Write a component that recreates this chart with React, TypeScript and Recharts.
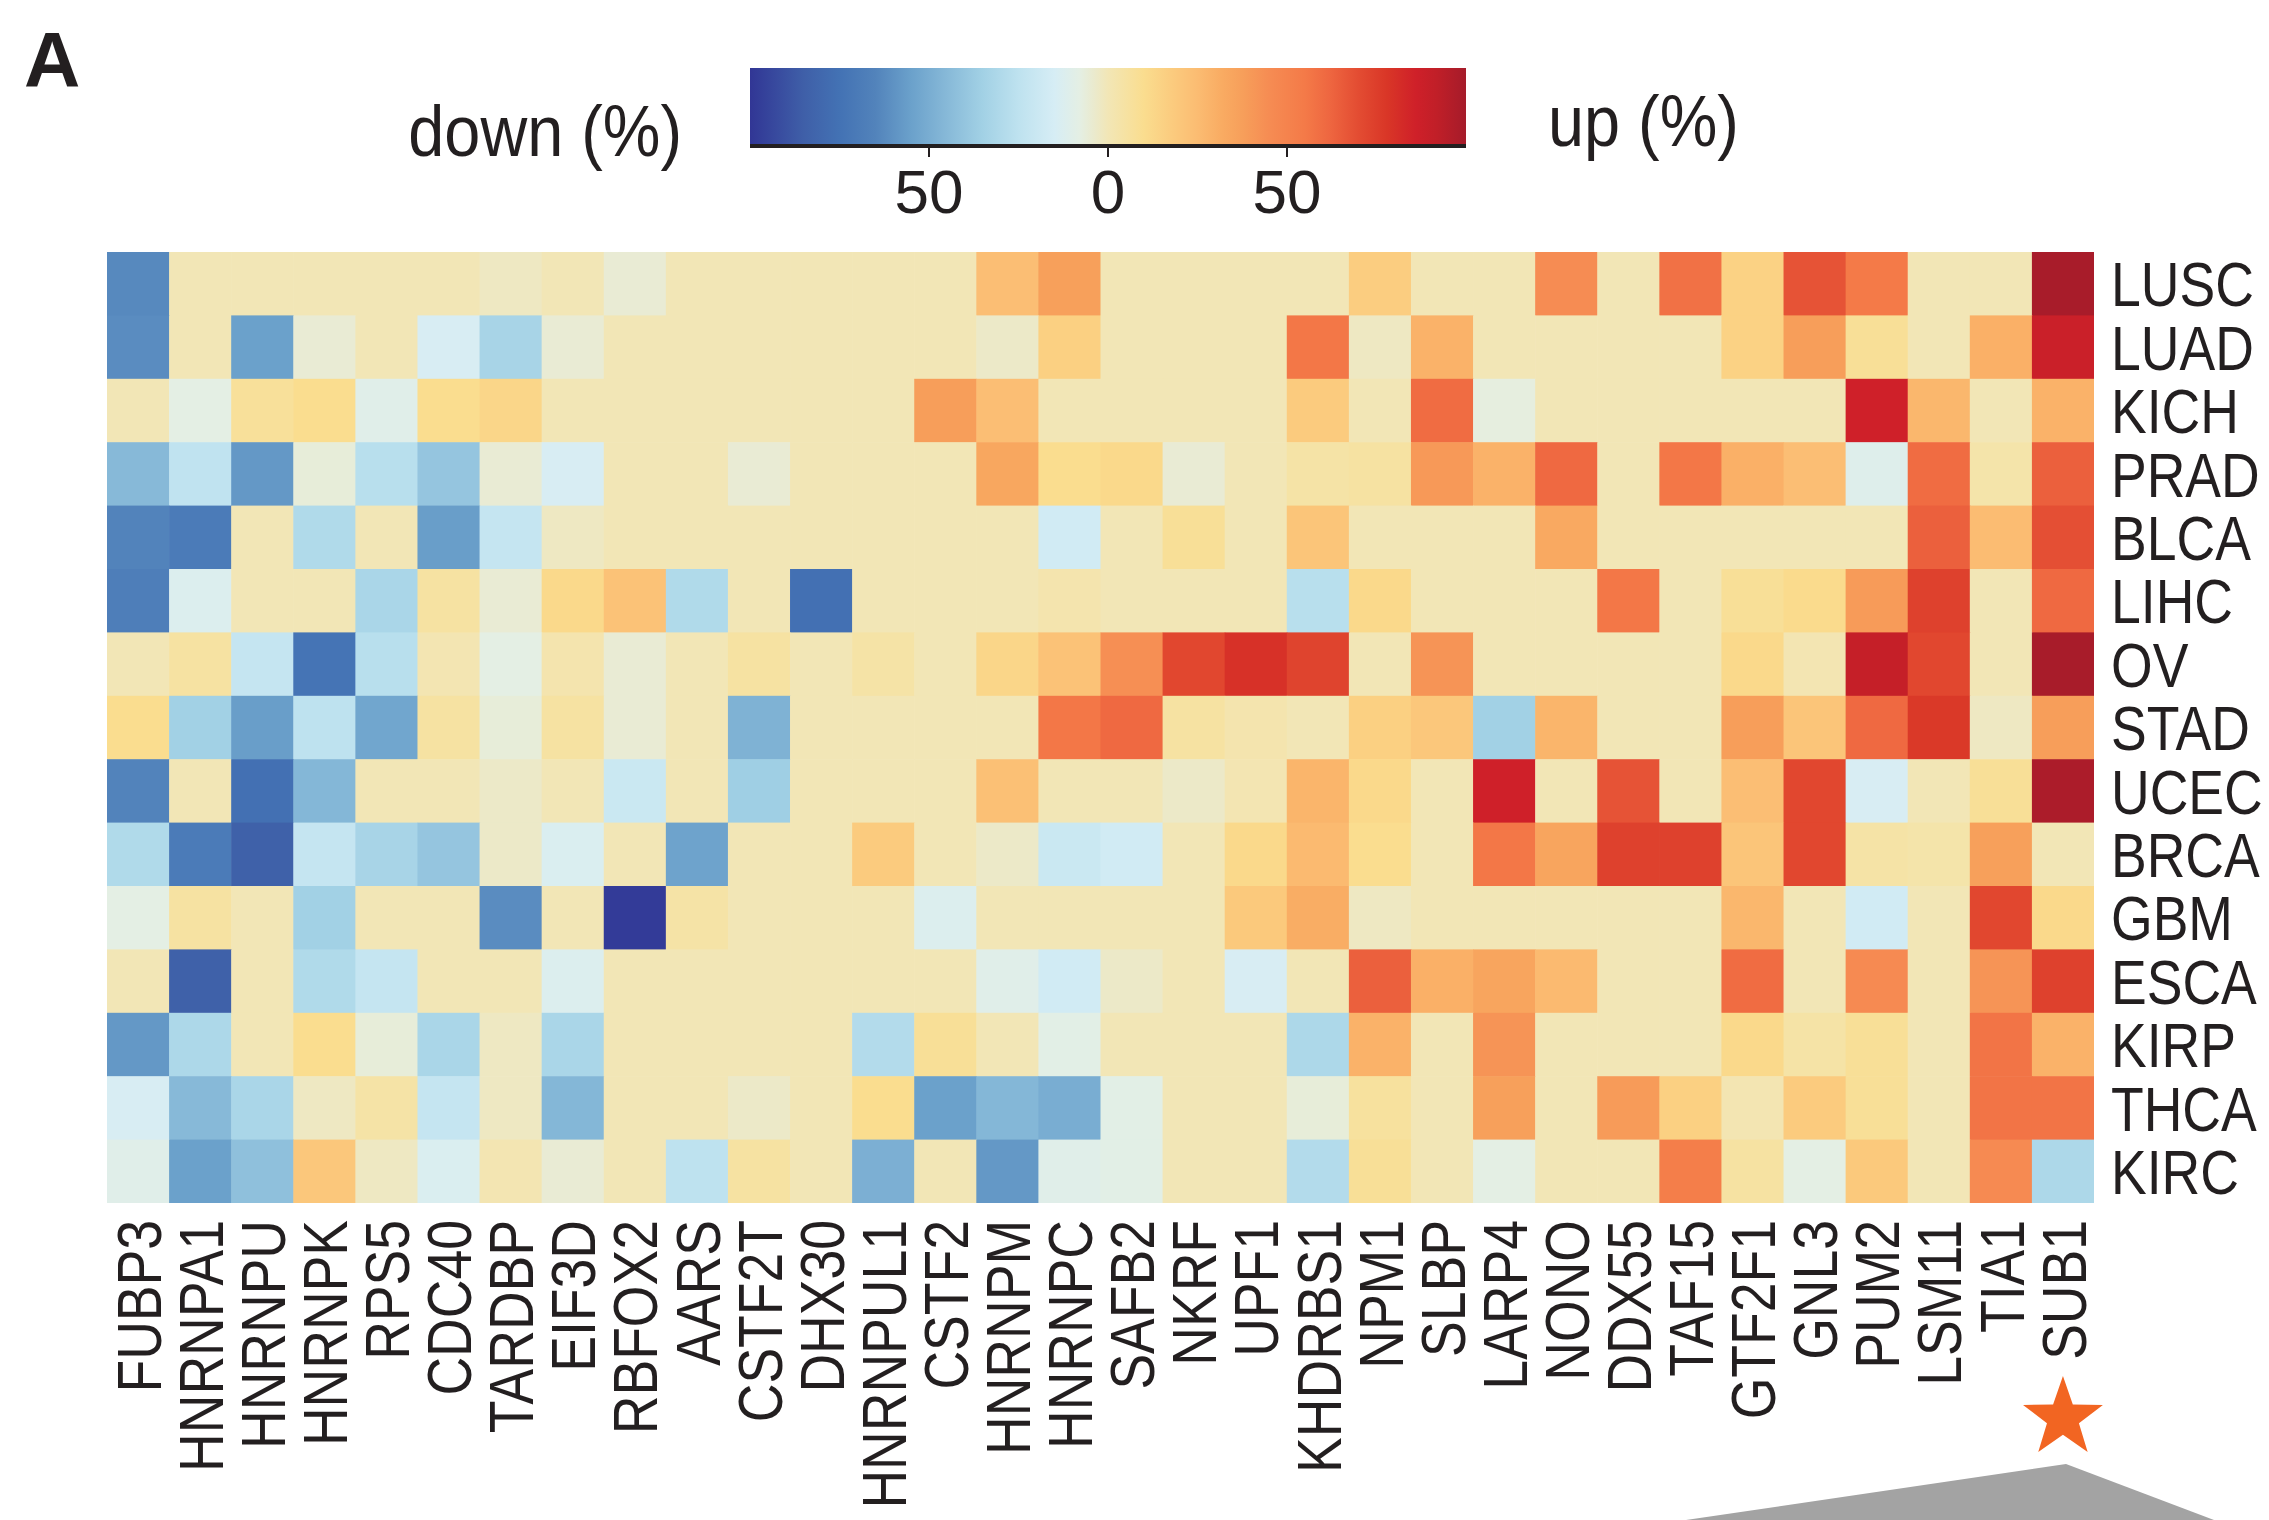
import { ScatterChart, Scatter, XAxis, YAxis, ReferenceArea } from "recharts";

// column / row labels
const genes = [
  "FUBP3", "HNRNPA1", "HNRNPU", "HNRNPK", "RPS5", "CDC40", "TARDBP", "EIF3D",
  "RBFOX2", "AARS", "CSTF2T", "DHX30", "HNRNPUL1", "CSTF2", "HNRNPM", "HNRNPC",
  "SAFB2", "NKRF", "UPF1", "KHDRBS1", "NPM1", "SLBP", "LARP4", "NONO",
  "DDX55", "TAF15", "GTF2F1", "GNL3", "PUM2", "LSM11", "TIA1", "SUB1",
];
const cancers = [
  "LUSC", "LUAD", "KICH", "PRAD", "BLCA", "LIHC", "OV", "STAD",
  "UCEC", "BRCA", "GBM", "ESCA", "KIRP", "THCA", "KIRC",
];
const highlighted = "SUB1";

// % change per cancer type (negative = down, positive = up), one value per gene
const LUSC = [-63, 0, 0, 0, 0, 0, -2, 0, -5, 0, 0, 0, 0, 0, 24, 37, 0, 0, 0, 0, 17, 0, 0, 45, 0, 58, 15, 68, 55, 0, 0, 99];
const LUAD = [-62, 0, -55, -5, 0, -14, -33, -5, 0, 0, 0, 0, 0, 0, -3, 16, 0, 0, 0, 56, -2, 29, 0, 0, 0, 0, 15, 38, 8, 0, 30, 88];
const KICH = [0, -8, 7, 10, -10, 10, 13, 0, 0, 0, 0, 0, 0, 38, 24, 0, 0, 0, 0, 18, 0, 60, -7, 0, 0, 0, 0, 0, 86, 27, 0, 29];
const PRAD = [-45, -24, -58, -6, -27, -40, -5, -14, 0, 0, -5, 0, 0, 0, 34, 10, 12, -5, 0, 4, 5, 40, 29, 61, 0, 56, 30, 24, -11, 60, 3, 64];
const BLCA = [-65, -70, 0, -30, 0, -56, -22, -2, 0, 0, 0, 0, 0, 0, 0, -17, 0, 8, 0, 21, 0, 0, 0, 33, 0, 0, 0, 0, 0, 64, 25, 69];
const LIHC = [-68, -12, 0, 0, -32, 5, -5, 12, 22, -30, 0, -76, 0, 0, 0, 2, 0, 0, 0, -27, 12, 0, 0, 0, 56, 0, 8, 11, 39, 74, 0, 61];
const OV = [0, 5, -22, -74, -27, 1, -8, 2, -5, 0, 5, 0, 4, 0, 13, 22, 44, 72, 80, 73, 0, 42, 0, 0, 0, 0, 12, 1, 90, 72, 0, 99];
const STAD = [10, -35, -56, -25, -53, 5, -6, 5, -5, 0, -48, 0, 0, 0, 0, 56, 61, 5, 2, 0, 16, 20, -35, 28, 0, 0, 38, 21, 61, 77, -2, 38];
const UCEC = [-65, 0, -76, -46, 0, 0, -3, 0, -20, 0, -36, 0, 0, 0, 23, 0, 0, -3, 1, 28, 12, 0, 86, 0, 68, 0, 24, 72, -14, 0, 8, 98];
const BRCA = [-30, -70, -84, -22, -33, -40, -3, -13, 0, -54, 0, 0, 18, 0, -3, -20, -17, 0, 12, 26, 10, 0, 56, 35, 74, 74, 21, 72, 4, 3, 37, 0];
const GBM = [-8, 5, 0, -35, 0, 0, -62, 0, -98, 4, 0, 0, 0, -12, 0, 0, 0, 0, 19, 31, -2, 0, 0, 0, 0, 0, 27, 0, -17, 0, 72, 12];
const ESCA = [0, -84, 0, -30, -22, 0, 0, -12, 0, 0, 0, 0, 0, 0, -10, -17, -3, 0, -14, 0, 64, 30, 35, 26, 0, 0, 60, 0, 46, 0, 42, 74];
const KIRP = [-58, -31, 0, 10, -6, -32, -2, -32, 0, 0, 0, 0, -29, 8, 0, -9, 0, 0, 0, -31, 29, 0, 42, 0, 0, 0, 12, 4, 8, 0, 57, 29];
const THCA = [-14, -45, -32, -2, 4, -22, -2, -46, 0, 0, -3, 0, 10, -55, -46, -50, -9, 0, 0, -6, 6, 0, 37, 0, 39, 16, 1, 18, 8, 0, 57, 57];
const KIRC = [-10, -55, -42, 20, -2, -13, 1, -5, 0, -25, 5, 0, -49, 0, -58, -10, -9, 0, 0, -29, 8, 0, -8, 0, 0, 53, 5, -8, 19, 0, 46, -31];

const rows = [LUSC, LUAD, KICH, PRAD, BLCA, LIHC, OV, STAD, UCEC, BRCA, GBM, ESCA, KIRP, THCA, KIRC];
const colorbarTicks = [-50, 0, 50];

// diverging palette (printed RdYlBu look)
const STOPS: [number, string][] = [
  [-100, "#313695"], [-85, "#3f5fa8"], [-75, "#4372b4"], [-65, "#5283bb"],
  [-55, "#6ba1cb"], [-45, "#87b9d8"], [-35, "#a2d1e5"], [-25, "#bee2ef"],
  [-15, "#d6edf5"], [-8, "#e4efe4"], [-4, "#eaeace"], [0, "#f2e6b6"],
  [5, "#f6e2a2"], [10, "#fadd8f"], [18, "#fbcb7e"], [25, "#fbbc72"],
  [32, "#f9ab62"], [38, "#f79e5a"], [45, "#f68c53"], [55, "#f47a48"],
  [62, "#ee6640"], [70, "#e34c32"], [78, "#d93627"], [86, "#cf2029"],
  [92, "#c01f28"], [100, "#a51b2a"],
];

const hex = (c: string) => [1, 3, 5].map((i) => parseInt(c.slice(i, i + 2), 16));
const colorFor = (v: number) => {
  for (let i = 0; i < STOPS.length - 1; i++) {
    const [v0, c0] = STOPS[i];
    const [v1, c1] = STOPS[i + 1];
    if (v <= v1) {
      const t = Math.max(0, (v - v0) / (v1 - v0));
      const a = hex(c0), b = hex(c1);
      return `rgb(${a.map((x, k) => Math.round(x + (b[k] - x) * t)).join(",")})`;
    }
  }
  return STOPS[STOPS.length - 1][1];
};

const cells = rows.flatMap((vals, r) => vals.map((v, c) => ({ x: c, y: r, v })));

const FONT = "'Liberation Sans', Arial, Helvetica, sans-serif";
const INK = "#231f20";
const W = 2269, H = 1520;
const LEFT = 107, TOP = 252, PW = 1987, PH = 951;
const CELL_W = PW / genes.length, CELL_H = PH / cancers.length;
const LABEL_GAP = 17;
const LABEL_SIZE = 63;

const starPoints = (cx: number, cy: number, R: number) => {
  const r = R * 0.4;
  const pts: string[] = [];
  for (let i = 0; i < 10; i++) {
    const a = -Math.PI / 2 + (i * Math.PI) / 5;
    const rr = i % 2 === 0 ? R : r;
    pts.push(`${cx + rr * Math.cos(a)},${cy + rr * Math.sin(a)}`);
  }
  return pts.join(" ");
};

const GeneTick = (props: any) => {
  const { x, payload } = props;
  const name = genes[payload.value];
  const y = TOP + PH + LABEL_GAP;
  return (
    <g>
      <text
        transform={`translate(${x},${y}) rotate(-90) scale(0.85,1)`}
        textAnchor="end"
        dy="0.36em"
        fontSize={LABEL_SIZE}
        fontFamily={FONT}
        fill={INK}
      >
        {name}
      </text>
      {name === highlighted && (
        <polygon points={starPoints(x, 1418, 42)} fill="#f26522" />
      )}
    </g>
  );
};

const CancerTick = (props: any) => {
  const { y, payload } = props;
  const x = LEFT + PW + LABEL_GAP;
  return (
    <text
      transform={`translate(${x},${y}) scale(0.85,1)`}
      textAnchor="start"
      dy="0.36em"
      fontSize={LABEL_SIZE}
      fontFamily={FONT}
      fill={INK}
    >
      {cancers[payload.value]}
    </text>
  );
};

const Cell = (props: any) => {
  const { cx, cy, payload } = props;
  return (
    <rect
      x={cx - CELL_W / 2}
      y={cy - CELL_H / 2}
      width={CELL_W + 0.6}
      height={CELL_H + 0.6}
      fill={colorFor(payload.v)}
    />
  );
};

export default function App() {
  return (
    <div
      style={{
        position: "absolute",
        left: 0,
        top: 0,
        width: W,
        height: H,
        background: "#fff",
        overflow: "hidden",
        fontFamily: FONT,
      }}
    >
      {/* heatmap */}
      <div style={{ position: "absolute", left: 0, top: 0 }}>
        <ScatterChart
          width={W}
          height={H}
          margin={{ top: TOP, left: LEFT, right: 15, bottom: 17 }}
        >
          <XAxis
            type="number"
            dataKey="x"
            domain={[-0.5, genes.length - 0.5]}
            ticks={genes.map((_, i) => i)}
            interval={0}
            allowDataOverflow
            axisLine={false}
            tickLine={false}
            height={300}
            tick={<GeneTick />}
          />
          <YAxis
            type="number"
            dataKey="y"
            orientation="right"
            reversed
            domain={[-0.5, cancers.length - 0.5]}
            ticks={cancers.map((_, i) => i)}
            interval={0}
            allowDataOverflow
            axisLine={false}
            tickLine={false}
            width={2269 - LEFT - PW - 15}
            tick={<CancerTick />}
          />
          <Scatter data={cells} shape={<Cell />} isAnimationActive={false} />
        </ScatterChart>
      </div>

      {/* colour bar */}
      <div style={{ position: "absolute", left: 750, top: 68 }}>
        <ScatterChart width={716} height={160} margin={{ top: 0, left: 0, right: 0, bottom: 0 }}>
          <defs>
            <linearGradient id="cbar" x1="0" y1="0" x2="1" y2="0">
              {STOPS.map(([v, c]) => (
                <stop key={v} offset={`${(v + 100) / 2}%`} stopColor={c} />
              ))}
            </linearGradient>
          </defs>
          <XAxis
            type="number"
            dataKey="x"
            domain={[-100, 100]}
            ticks={colorbarTicks}
            tickFormatter={(v: number) => String(Math.abs(v))}
            height={82}
            axisLine={{ stroke: INK, strokeWidth: 4 }}
            tickLine={{ stroke: INK, strokeWidth: 2 }}
            tickSize={11}
            tickMargin={12}
            tick={{ fontSize: 62, fill: INK, fontFamily: FONT }}
          />
          <YAxis type="number" dataKey="y" domain={[0, 1]} hide />
          <ReferenceArea x1={-100} x2={100} y1={0} y2={1} fill="url(#cbar)" fillOpacity={1} stroke="none" />
          <Scatter
            data={colorbarTicks.map((t) => ({ x: t, y: 0.5 }))}
            shape={() => <g />}
            isAnimationActive={false}
          />
        </ScatterChart>
      </div>

      {/* titles and decorations */}
      <svg
        width={W}
        height={H}
        style={{ position: "absolute", left: 0, top: 0, pointerEvents: "none" }}
      >
        <text x={24} y={87} fontSize={78} fontWeight="bold" fontFamily={FONT} fill={INK}>
          A
        </text>
        <text
          transform="translate(682,156) scale(0.9,1)"
          textAnchor="end"
          fontSize={72}
          fontFamily={FONT}
          fill={INK}
        >
          down (%)
        </text>
        <text
          transform="translate(1548,146) scale(0.9,1)"
          fontSize={72}
          fontFamily={FONT}
          fill={INK}
        >
          up (%)
        </text>
        <polygon points="1686,1520 2066,1464 2214,1520" fill="#a3a3a3" />
      </svg>
    </div>
  );
}
